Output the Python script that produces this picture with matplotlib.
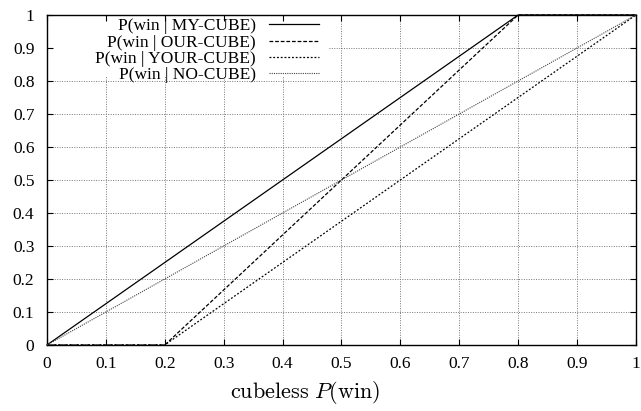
import numpy as np
import matplotlib
matplotlib.use("Agg")
import matplotlib.pyplot as plt
from matplotlib.patches import Rectangle

plt.rcParams['font.family'] = ['Liberation Serif', 'DejaVu Serif']
plt.rcParams['mathtext.fontset'] = 'cm'

# curves: cubeless P(win) -> P(win | cube state)
my_x = [0, 0.8, 1]
my_y = [0, 1, 1]
our_x = [0, 0.2, 0.8, 1]
our_y = [0, 0, 1, 1]
your_x = [0, 0.2, 1]
your_y = [0, 0, 1]
no_x = [0, 1]
no_y = [0, 1]

ticks = np.round(np.arange(0, 1.01, 0.1), 1)
tick_labels = ['0'] + [f"{t:g}" for t in ticks[1:-1]] + ['1']

fig = plt.figure(figsize=(6.41, 4.11), dpi=100)
ax = fig.add_axes([0.0733, 0.1606, 0.9187, 0.8029])

# gnuplot style grid, drawn by hand so the key box can blank it
for t in ticks[1:-1]:
    ax.axhline(t, color='#777777', lw=0.7, ls=(0, (1, 1.5)), zorder=0.5)
    ax.axvline(t, color='#777777', lw=0.7, ls=(0, (1, 1.5)), zorder=0.5)
ax.add_patch(Rectangle((0, 0.815), 0.477, 0.185, transform=ax.transAxes,
                       facecolor='white', edgecolor='none', zorder=0.8))

kw = dict(color='black', lw=0.9, clip_on=False, zorder=3)
ax.plot(my_x, my_y, ls='-', label='P(win | MY-CUBE)', **kw)
ax.plot(our_x, our_y, ls=(0, (3, 1.5)), label='P(win | OUR-CUBE)', **kw)
ax.plot(your_x, your_y, ls=(0, (1.5, 1.5)), label='P(win | YOUR-CUBE)', **kw)
ax.plot(no_x, no_y, color='#444444', lw=0.8, ls=(0, (1, 1)), clip_on=False,
        zorder=3, label='P(win | NO-CUBE)')

ax.set_xlim(0, 1)
ax.set_ylim(0, 1)
ax.set_xticks(ticks)
ax.set_xticklabels(tick_labels)
ax.set_yticks(ticks)
ax.set_yticklabels(tick_labels)
ax.tick_params(axis='y', pad=9)
ax.tick_params(axis='x', pad=8)
ax.tick_params(direction='in', top=True, right=True, labelsize=12.5, length=4)
for s in ax.spines.values():
    s.set_linewidth(1.0)

ax.set_xlabel(r'$\mathrm{cubeless}\ P(\mathrm{win})$', fontsize=16)
ax.xaxis.set_label_coords(0.438, -0.103)

leg = ax.legend(loc='upper right', bbox_to_anchor=(0.462, 0.99), frameon=False,
                markerfirst=False, fontsize=12.5, handlelength=2.9,
                labelspacing=0.0, borderpad=0.0, borderaxespad=0.0,
                handletextpad=0.75)
leg.set_zorder(1)
for t in leg.get_texts():
    t.set_ha('right')
leg._legend_box.align = 'right'

fig.savefig('out.png', dpi=100, facecolor='white')
